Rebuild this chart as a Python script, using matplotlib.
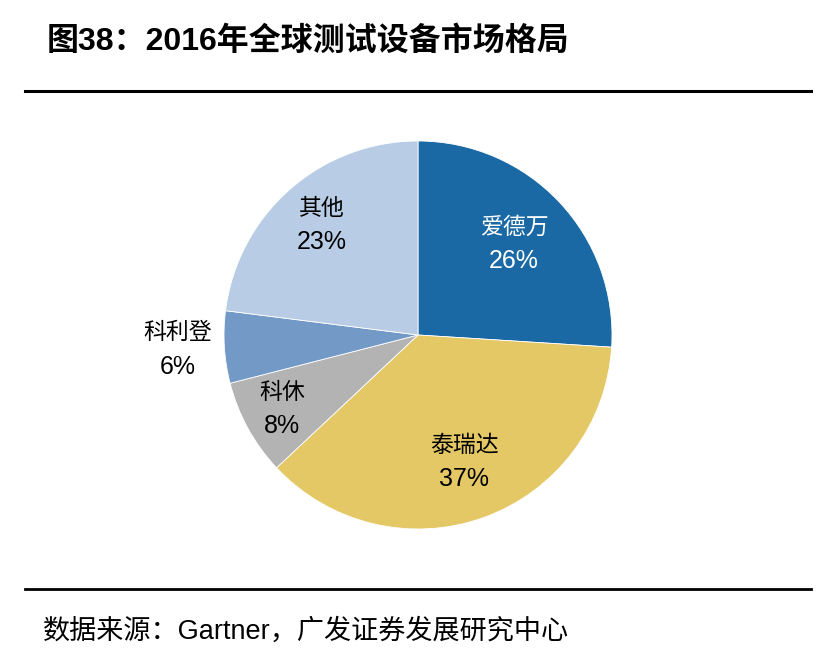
import matplotlib
matplotlib.use("Agg")
import matplotlib.pyplot as plt
from matplotlib.lines import Line2D
import numpy as np

plt.rcParams['font.family'] = ['Liberation Sans', 'Noto Sans CJK SC', 'DejaVu Sans']

# Data
companies = ["爱德万", "泰瑞达", "科休", "科利登", "其他"]
shares = [26, 37, 8, 6, 23]
colors = ["#1A69A4", "#E4C865", "#B3B3B3", "#7399C6", "#B8CDE5"]
text_colors = ["white", "black", "black", "black", "black"]
label_dist = [0.68, 0.70, 0.80, 1.24, 0.75]

title = "图38：2016年全球测试设备市场格局"
source = "数据来源：Gartner，广发证券发展研究中心"

W, H = 831, 666
fig = plt.figure(figsize=(W / 100, H / 100), dpi=100)

cx, cy, r = 418, 335, 194
ax = fig.add_axes([(cx - r) / W, (H - cy - r) / H, 2 * r / W, 2 * r / H])
wedges, _ = ax.pie(shares, colors=colors, startangle=90, counterclock=False,
                   radius=1, wedgeprops=dict(linewidth=0.6, edgecolor="white"))
ax.set_xlim(-1, 1)
ax.set_ylim(-1, 1)
ax.set_aspect("equal")
ax.axis("off")

total = sum(shares)
for w, name, v, tc, d in zip(wedges, companies, shares, text_colors, label_dist):
    ang = np.deg2rad((w.theta1 + w.theta2) / 2)
    x, y = d * np.cos(ang), d * np.sin(ang)
    ax.text(x, y + 0.09, name, ha="center", va="center", fontsize=16.5,
            color=tc, family=['Noto Sans CJK SC'], fontweight='light')
    ax.text(x, y - 0.085, f"{v / total * 100:.0f}%", ha="center", va="center",
            fontsize=18, color=tc, family=['Liberation Sans'])

# title
fig.text(47 / W, 1 - 42 / H, title, ha="left", va="center", fontsize=23,
         fontweight="bold", color="black")
# horizontal rules
fig.add_artist(Line2D([25 / W, 811 / W], [1 - 90.5 / H, 1 - 90.5 / H],
                      color="black", linewidth=2.2, transform=fig.transFigure))
fig.add_artist(Line2D([25 / W, 811 / W], [1 - 588.5 / H, 1 - 588.5 / H],
                      color="black", linewidth=2.0, transform=fig.transFigure))
# source
fig.text(43 / W, 1 - 632 / H, source, ha="left", va="center", fontsize=19.5,
         color="black")

fig.savefig("out.png", dpi=100, facecolor="white")
